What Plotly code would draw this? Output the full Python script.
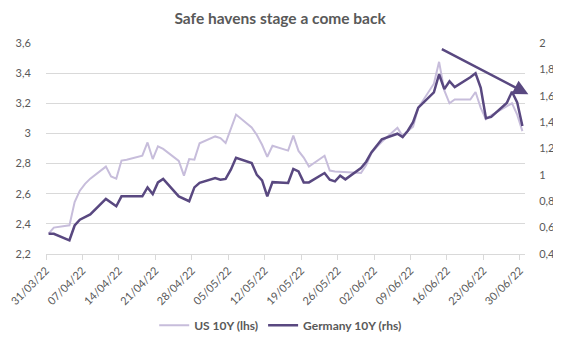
import plotly.graph_objects as go

dates = [
    "2022-03-31", "2022-04-01", "2022-04-04", "2022-04-05", "2022-04-06", "2022-04-07", "2022-04-08",
    "2022-04-11", "2022-04-12", "2022-04-13", "2022-04-14", "2022-04-15",
    "2022-04-18", "2022-04-19", "2022-04-20", "2022-04-21", "2022-04-22",
    "2022-04-25", "2022-04-26", "2022-04-27", "2022-04-28", "2022-04-29",
    "2022-05-02", "2022-05-03", "2022-05-04", "2022-05-05", "2022-05-06",
    "2022-05-09", "2022-05-10", "2022-05-11", "2022-05-12", "2022-05-13",
    "2022-05-16", "2022-05-17", "2022-05-18", "2022-05-19", "2022-05-20",
    "2022-05-23", "2022-05-24", "2022-05-25", "2022-05-26", "2022-05-27",
    "2022-05-30", "2022-05-31", "2022-06-01", "2022-06-02", "2022-06-03",
    "2022-06-06", "2022-06-07", "2022-06-08", "2022-06-09", "2022-06-10",
    "2022-06-13", "2022-06-14", "2022-06-15", "2022-06-16", "2022-06-17",
    "2022-06-20", "2022-06-21", "2022-06-22", "2022-06-23", "2022-06-24",
    "2022-06-27", "2022-06-28", "2022-06-29", "2022-06-30",
]

us_10y = [
    2.335, 2.375, 2.39, 2.545, 2.62, 2.665, 2.70,
    2.78, 2.715, 2.70, 2.82, 2.826,
    2.852, 2.94, 2.83, 2.914, 2.897,
    2.818, 2.72, 2.83, 2.826, 2.935,
    2.98, 2.969, 2.936, 3.026, 3.125,
    3.04, 2.99, 2.925, 2.845, 2.918,
    2.886, 2.985, 2.884, 2.84, 2.78,
    2.852, 2.754, 2.748, 2.745, 2.743,
    2.737, 2.79, 2.87, 2.91, 2.945,
    3.037, 2.982, 3.017, 3.045, 3.17,
    3.33, 3.475, 3.285, 3.20, 3.225,
    3.225, 3.275, 3.17, 3.095, 3.12,
    3.18, 3.20, 3.125, 3.015,
]

de_10y = [
    0.553, 0.553, 0.504, 0.616, 0.66, 0.68, 0.70,
    0.818, 0.79, 0.762, 0.837, 0.837,
    0.837, 0.905, 0.855, 0.943, 0.969,
    0.837, 0.82, 0.80, 0.905, 0.939,
    0.976, 0.964, 0.969, 1.039, 1.13,
    1.09, 1.00, 0.958, 0.837, 0.945,
    0.939, 1.045, 1.026, 0.943, 0.943,
    1.014, 0.963, 0.951, 0.994, 0.966,
    1.052, 1.10, 1.17, 1.22, 1.27,
    1.312, 1.287, 1.335, 1.40, 1.51,
    1.625, 1.763, 1.65, 1.71, 1.665,
    1.74, 1.77, 1.66, 1.43, 1.44,
    1.545, 1.63, 1.55, 1.37,
]

title_text = "Safe havens stage a come back"
us_name = "US 10Y (lhs)"
de_name = "Germany 10Y (rhs)"

LIGHT = "#C7BDDB"
DARK = "#594880"
GREY = "#595959"
GRID = "#D9D9D9"
FONT = "Lato, Carlito, 'Liberation Sans', sans-serif"
DAY_MS = 86400000

fig = go.Figure()
fig.add_trace(go.Scatter(
    x=dates, y=us_10y, name=us_name, mode="lines",
    line=dict(color=LIGHT, width=2),
    xperiod=DAY_MS, xperiodalignment="middle",
    yaxis="y",
))
fig.add_trace(go.Scatter(
    x=dates, y=de_10y, name=de_name, mode="lines",
    line=dict(color=DARK, width=2.5),
    xperiod=DAY_MS, xperiodalignment="middle",
    yaxis="y2",
))

# trend arrow (annotation, placed relative to the plot area)
fig.add_annotation(
    x=1.007, y=0.757, xref="paper", yref="paper",
    ax=-88, ay=-46,
    showarrow=True, text="", arrowhead=2, arrowsize=1.2, arrowwidth=2.5,
    arrowcolor=DARK, standoff=0, startstandoff=0,
)

# the page body keeps its default 8px margin, so the figure is offset by 8px
fig.update_layout(
    width=553, height=342,
    margin=dict(l=38, r=36, t=35, b=95.5, autoexpand=False),
    paper_bgcolor="white", plot_bgcolor="white",
    separators=", ",
    font=dict(family=FONT, size=11, color=GREY),
    title=dict(text="<b>" + title_text + "</b>", x=0.492, xanchor="center",
               y=0.984, yanchor="top", yref="container",
               font=dict(family=FONT, size=15.5, color=GREY)),
    showlegend=True,
    legend=dict(orientation="h", x=0.49, xanchor="center", y=-0.338, yanchor="middle",
                font=dict(family=FONT, size=12, color=GREY, weight="bold"), itemwidth=30,
                bgcolor="rgba(0,0,0,0)"),
    xaxis=dict(
        type="date", range=["2022-03-31", "2022-07-01"],
        tick0="2022-03-31", dtick=7 * DAY_MS, tickformat="%d/%m/%y",
        tickangle=-45, ticks="outside", ticklen=5, tickcolor=GRID,
        showline=True, linecolor=GRID, linewidth=1,
        showgrid=False, zeroline=False,
        tickfont=dict(family=FONT, size=11, color=GREY),
    ),
    yaxis=dict(
        range=[2.2, 3.6], dtick=0.2, tick0=2.2, tickformat=".1~f",
        showgrid=True, gridcolor=GRID, gridwidth=1,
        showline=False, zeroline=False,
        ticks="outside", ticklen=12, tickcolor="rgba(0,0,0,0)",
        tickfont=dict(family=FONT, size=11, color=GREY),
    ),
    yaxis2=dict(
        range=[0.4, 2.0], dtick=0.2, tick0=0.4, tickformat=".1~f",
        overlaying="y", side="right",
        showgrid=False, showline=False, zeroline=False,
        ticks="outside", ticklen=11, tickcolor="rgba(0,0,0,0)",
        tickfont=dict(family=FONT, size=11, color=GREY),
    ),
)

fig.write_html("out.html")
